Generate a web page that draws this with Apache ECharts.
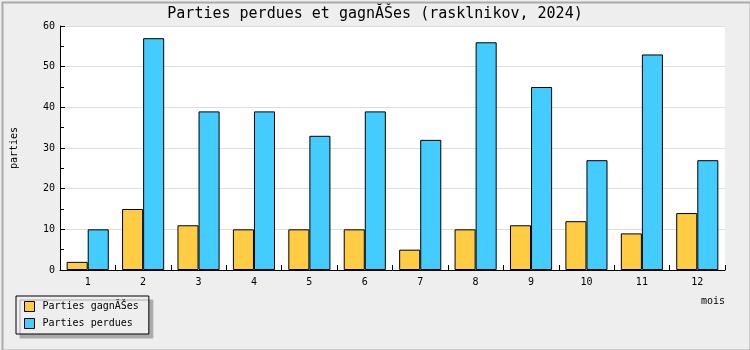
<!DOCTYPE html>
<html><head><meta charset="utf-8">
<script src="https://cdn.jsdelivr.net/npm/echarts@6/dist/echarts.min.js"></script>
<style>html,body{margin:0;padding:0;background:#eeeeee}#c{width:750px;height:350px}</style>
</head><body><div id="c"></div>
<script>
const categories = ['1','2','3','4','5','6','7','8','9','10','11','12'];
const gagnees = [2,15,11,10,10,10,5,10,11,12,9,14];
const perdues = [10,57,39,39,33,39,32,56,45,27,53,27];
const seriesNames = ['Parties gagnĂŠes', 'Parties perdues'];
const titleText = 'Parties perdues et gagnĂŠes (rasklnikov, 2024)';
const font = 'DejaVu Sans Mono';
const chart = echarts.init(document.getElementById('c'), null, {renderer:'canvas'});
chart.setOption({
  backgroundColor: '#eeeeee',
  animation: false,
  textStyle: {fontFamily: font},
  title: {text: titleText, left: 'center', top: 2,
    textStyle: {fontFamily: font, fontSize: 15, fontWeight: 'normal', color: '#000'}},
  graphic: [{type:'rect', left:0, top:0, shape:{x:1, y:1, width:748, height:348},
    style:{fill:'none', stroke:'#aaaaaa', lineWidth:2}, silent:true, z:100}],
  legend: {orient:'vertical', left:16, top:296, itemWidth:10, itemHeight:10, itemGap:6,
    icon:'rect',
    padding:[5,10,5,8], backgroundColor:'#eeeeee', borderColor:'#000', borderWidth:1,
    shadowColor:'#aaaaaa', shadowBlur:0, shadowOffsetX:4, shadowOffsetY:4,
    textStyle:{fontFamily:font, fontSize:10, color:'#000', padding:[0,0,0,3]},
    itemStyle:{borderColor:'#000', borderWidth:1},
    data: seriesNames},
  grid: {left:60, right:25, top:26, bottom:80, show:true, backgroundColor:'#fff', borderWidth:0},
  xAxis: {type:'category', data: categories,
    name:'mois', nameLocation:'end', nameGap:0,
    nameTextStyle:{fontFamily:font, fontSize:10, color:'#000', align:'right', verticalAlign:'top', padding:[26,0,0,0]},
    axisLine:{lineStyle:{color:'#000', width:1}},
    axisTick:{show:true, inside:true, length:5, lineStyle:{color:'#000'}},
    axisLabel:{fontFamily:font, fontSize:10, color:'#000', margin:7},
    splitLine:{show:false}},
  yAxis: {type:'value', min:0, max:60, interval:10,
    name:'parties', nameLocation:'middle', nameRotate:90, nameGap:41,
    nameTextStyle:{fontFamily:font, fontSize:10, color:'#000'},
    axisLine:{show:true, lineStyle:{color:'#000', width:1}},
    axisTick:{show:true, inside:true, length:5, lineStyle:{color:'#000'}},
    minorTick:{show:true, splitNumber:2, length:4, lineStyle:{color:'#000'}},
    axisLabel:{fontFamily:font, fontSize:10, color:'#000', margin:5},
    splitLine:{show:true, lineStyle:{color:'#dddddd', width:1}}},
  series: [
    {name: seriesNames[0], type:'bar', data: gagnees, barGap:'0%', barCategoryGap:'24%',
      itemStyle:{color:'#ffcc44', borderColor:'#000', borderWidth:1, borderRadius:0}},
    {name: seriesNames[1], type:'bar', data: perdues, barGap:'0%', barCategoryGap:'24%',
      itemStyle:{color:'#44ccff', borderColor:'#000', borderWidth:1, borderRadius:0}}
  ]
});
</script></body></html>
